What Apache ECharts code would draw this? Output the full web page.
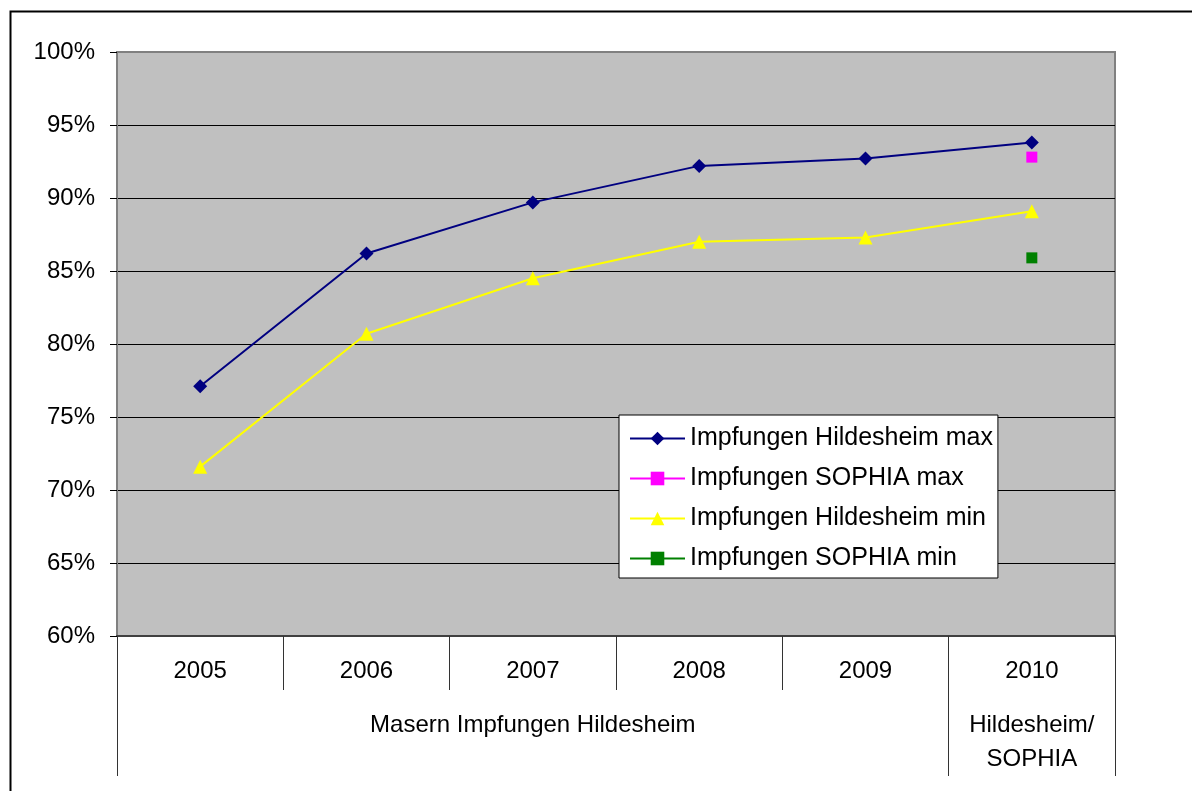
<!DOCTYPE html>
<html>
<head>
<meta charset="utf-8">
<title>Masern Impfungen Hildesheim</title>
<script src="https://cdn.jsdelivr.net/npm/echarts@6/dist/echarts.min.js"></script>
<style>
  html, body { margin: 0; padding: 0; background: #fff; }
  #chart { width: 1192px; height: 791px; }
</style>
</head>
<body>
<div id="chart"></div>
<script>
// categories
const years = ['2005', '2006', '2007', '2008', '2009', '2010']
// second row of the category axis (label sits under the middle year of each group)
const groupLabels = ['', '', 'Masern Impfungen Hildesheim', '', '', 'Hildesheim/\nSOPHIA']
const groupStarts = [0, 5]

// values in percent
const hildesheimMax = [77.1, 86.2, 89.7, 92.2, 92.7, 93.8]
const sophiaMax = [null, null, null, null, null, 92.8]
const hildesheimMin = [71.6, 80.7, 84.5, 87.0, 87.3, 89.1]
const sophiaMin = [null, null, null, null, null, 85.9]

const font = 'Liberation Sans, Arial, sans-serif'
const chart = echarts.init(document.getElementById('chart'))

chart.setOption({
  animation: false,
  textStyle: { fontFamily: font, color: '#000' },
  graphic: [{
    type: 'rect',
    left: 8, top: 9,
    shape: { width: 1300, height: 900 },
    style: { fill: 'none', stroke: '#000', lineWidth: 2 },
    silent: true,
  }],
  grid: {
    left: 117, right: 77, top: 52, bottom: 155,
    show: true,
    backgroundColor: '#c0c0c0',
    borderColor: '#808080',
    borderWidth: 2,
  },
  legend: {
    left: 619, top: 415,
    orient: 'vertical',
    backgroundColor: '#fff',
    borderColor: '#000',
    borderWidth: 1,
    borderRadius: 0,
    padding: [11, 5, 7, 10],
    itemWidth: 55,
    itemHeight: 17,
    itemGap: 15,
    textStyle: { fontFamily: font, fontSize: 25, lineHeight: 24, color: '#000' },
    data: ['Impfungen Hildesheim max', 'Impfungen SOPHIA max', 'Impfungen Hildesheim min', 'Impfungen SOPHIA min'],
  },
  xAxis: [
    {
      type: 'category',
      data: years,
      boundaryGap: true,
      axisLine: { lineStyle: { color: '#404040', width: 2 } },
      axisTick: { show: true, interval: 0, length: 54, lineStyle: { color: '#333', width: 1 } },
      axisLabel: { interval: 0, margin: 23, fontSize: 24, color: '#000', fontFamily: font },
    },
    {
      type: 'category',
      data: years,
      position: 'bottom',
      boundaryGap: true,
      axisLine: { show: false },
      axisTick: {
        show: true,
        length: 140,
        interval: (i) => groupStarts.includes(i),
        lineStyle: { color: '#333', width: 1 },
      },
      axisLabel: {
        interval: 0,
        margin: 72,
        fontSize: 24,
        lineHeight: 34,
        color: '#000',
        fontFamily: font,
        formatter: (v, i) => groupLabels[i],
      },
    },
  ],
  yAxis: {
    type: 'value',
    min: 60, max: 100, interval: 5,
    axisLine: { show: true, lineStyle: { color: '#808080', width: 2 } },
    axisTick: { show: true, length: 7, lineStyle: { color: '#000' } },
    axisLabel: { margin: 22, fontSize: 24, color: '#000', fontFamily: font, formatter: '{value}%' },
    splitLine: {
      lineStyle: {
        color: ['#404040', '#000', '#000', '#000', '#000', '#000', '#000', '#000', '#808080'],
        width: 1,
      },
    },
  },
  series: [
    {
      name: 'Impfungen Hildesheim max',
      type: 'line',
      data: hildesheimMax,
      symbol: 'diamond', symbolSize: 14,
      lineStyle: { color: '#000080', width: 2 },
      itemStyle: { color: '#000080' },
    },
    {
      name: 'Impfungen SOPHIA max',
      type: 'line',
      data: sophiaMax,
      symbol: 'rect', symbolSize: 11,
      showAllSymbol: true,
      lineStyle: { color: '#ff00ff', width: 2 },
      itemStyle: { color: '#ff00ff' },
    },
    {
      name: 'Impfungen Hildesheim min',
      type: 'line',
      data: hildesheimMin,
      symbol: 'triangle', symbolSize: 14,
      lineStyle: { color: '#ffff00', width: 2 },
      itemStyle: { color: '#ffff00' },
    },
    {
      name: 'Impfungen SOPHIA min',
      type: 'line',
      data: sophiaMin,
      symbol: 'rect', symbolSize: 11,
      showAllSymbol: true,
      lineStyle: { color: '#008000', width: 2 },
      itemStyle: { color: '#008000' },
    },
  ],
})
</script>
</body>
</html>
